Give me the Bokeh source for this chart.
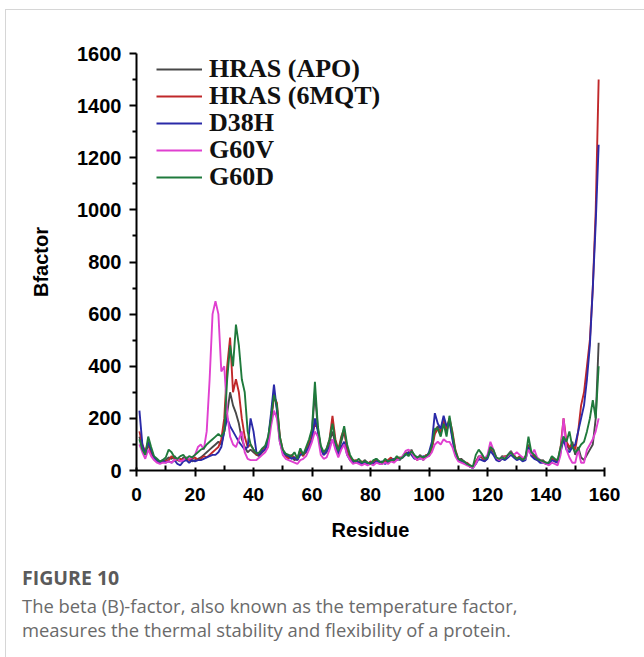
from bokeh.plotting import figure
from bokeh.layouts import column
from bokeh.models import Legend, LegendItem, Div, FixedTicker
from bokeh.embed import file_html
from bokeh.resources import INLINE

residues = list(range(1, 159))

apo = [130, 90, 60, 100, 70, 50, 40, 30, 35, 40,
       50, 45, 55, 40, 35, 50, 40, 45, 35, 40,
       45, 50, 60, 70, 80, 90, 100, 110, 100, 150,
       220, 300, 250, 220, 180, 120, 90, 70, 80, 70,
       60, 55, 70, 80, 110, 200, 300, 240, 120, 70,
       60, 50, 55, 40, 45, 80, 60, 70, 100, 150,
       300, 160, 90, 60, 70, 110, 150, 100, 70, 110,
       150, 90, 50, 40, 30, 35, 25, 40, 30, 25,
       35, 45, 30, 25, 40, 30, 45, 35, 50, 40,
       55, 70, 60, 80, 55, 45, 60, 40, 55, 60,
       90, 150, 170, 140, 190, 150, 190, 130, 70, 40,
       45, 35, 25, 15, 10, 30, 55, 50, 40, 55,
       85, 70, 45, 40, 55, 50, 60, 75, 55, 45,
       50, 40, 55, 100, 65, 55, 45, 35, 40, 25,
       30, 50, 35, 30, 80, 130, 100, 80, 110, 60,
       90, 50, 40, 60, 80, 100, 200, 490]

mqt = [150, 100, 70, 110, 60, 45, 35, 30, 40, 35,
       40, 55, 45, 40, 45, 40, 50, 40, 45, 50,
       40, 45, 55, 50, 60, 70, 80, 90, 120, 200,
       400, 510, 300, 350, 300, 200, 130, 90, 100, 80,
       60, 65, 80, 90, 120, 190, 280, 260, 130, 80,
       55, 45, 60, 50, 40, 70, 55, 80, 110, 130,
       180, 160, 80, 70, 80, 120, 210, 120, 80, 130,
       160, 80, 50, 35, 40, 30, 35, 30, 25, 35,
       30, 40, 35, 30, 35, 40, 50, 35, 45, 50,
       50, 65, 70, 75, 50, 40, 55, 45, 60, 55,
       85, 140, 160, 150, 200, 160, 200, 150, 80, 45,
       40, 30, 30, 20, 15, 35, 50, 55, 35, 50,
       90, 75, 50, 35, 50, 55, 55, 70, 60, 45,
       55, 45, 50, 95, 60, 50, 40, 40, 35, 30,
       25, 45, 40, 35, 90, 200, 110, 90, 100, 80,
       150, 250, 300, 400, 500, 700, 1000, 1500]

d38h = [230, 100, 60, 110, 80, 50, 35, 30, 40, 30,
        35, 30, 40, 25, 20, 35, 40, 30, 40, 35,
        40, 40, 45, 50, 55, 60, 60, 70, 90, 150,
        200, 170, 150, 130, 110, 95, 80, 90, 200, 150,
        70, 60, 75, 80, 120, 220, 330, 230, 110, 70,
        60, 55, 45, 50, 40, 60, 65, 75, 90, 120,
        200, 150, 80, 60, 75, 90, 120, 90, 60, 90,
        110, 60, 40, 30, 35, 30, 25, 30, 25, 30,
        25, 35, 30, 35, 25, 35, 40, 45, 40, 45,
        50, 60, 70, 60, 45, 50, 45, 55, 50, 70,
        110, 220, 180, 160, 210, 170, 190, 120, 60, 40,
        35, 30, 25, 15, 10, 25, 45, 40, 35, 45,
        75, 60, 40, 35, 45, 40, 50, 60, 50, 40,
        45, 35, 40, 90, 55, 45, 40, 30, 30, 25,
        25, 40, 35, 30, 70, 120, 80, 70, 90, 100,
        150, 200, 250, 350, 480, 700, 950, 1250]

g60v = [100, 70, 45, 80, 55, 40, 30, 25, 30, 30,
        35, 30, 40, 45, 35, 40, 50, 45, 50, 60,
        90, 100, 80, 150, 350, 600, 650, 600, 380, 400,
        220, 130, 100, 90, 120, 150, 70, 45, 40, 40,
        40, 50, 60, 70, 90, 170, 230, 200, 110, 60,
        45, 40, 35, 30, 25, 40, 45, 55, 80, 110,
        150, 130, 60, 45, 50, 80, 120, 80, 50, 80,
        100, 60, 40, 25, 30, 25, 20, 25, 20, 25,
        20, 30, 25, 25, 30, 25, 35, 30, 40, 45,
        55, 75, 80, 70, 50, 40, 50, 40, 50, 55,
        70, 100, 110, 100, 120, 110, 110, 90, 55, 35,
        30, 25, 20, 15, 10, 25, 50, 60, 45, 60,
        110, 80, 50, 40, 50, 50, 55, 70, 60, 70,
        60, 50, 45, 80, 60, 80, 50, 40, 30, 25,
        20, 30, 25, 20, 60, 200, 80, 50, 30, 30,
        80, 30, 30, 80, 100, 120, 150, 200]

g60d = [120, 80, 60, 130, 90, 55, 45, 35, 40, 50,
        80, 70, 50, 45, 55, 60, 45, 55, 50, 60,
        70, 80, 85, 100, 110, 120, 130, 140, 130, 150,
        350, 480, 400, 560, 480, 350, 300, 150, 100, 80,
        65, 70, 85, 95, 130, 200, 290, 250, 130, 80,
        65, 60, 55, 70, 45, 85, 60, 90, 120, 160,
        340, 170, 95, 70, 85, 120, 180, 110, 75, 120,
        170, 100, 60, 40, 35, 45, 30, 35, 30, 25,
        40, 45, 35, 30, 45, 35, 40, 40, 55, 45,
        50, 65, 55, 75, 60, 50, 55, 50, 55, 65,
        95, 160, 160, 130, 180, 130, 210, 140, 75, 45,
        40, 35, 25, 20, 15, 60, 80, 65, 45, 50,
        90, 80, 50, 45, 50, 45, 60, 70, 55, 45,
        50, 40, 50, 130, 70, 60, 45, 40, 35, 30,
        30, 55, 45, 40, 90, 130, 110, 150, 90, 70,
        80, 100, 110, 150, 200, 270, 200, 400]

series_names = ["HRAS (APO)", "HRAS (6MQT)", "D38H", "G60V", "G60D"]
series_values = [apo, mqt, d38h, g60v, g60d]
series_colors = ["#484848", "#c0282a", "#2a2aa8", "#e040d0", "#1f7a3c"]

x_ticks = [0, 20, 40, 60, 80, 100, 120, 140, 160]
y_ticks = [0, 200, 400, 600, 800, 1000, 1200, 1400, 1600]

caption_title = "FIGURE 10"
caption_lines = ["The beta (B)-factor, also known as the temperature factor,",
                 "measures the thermal stability and flexibility of a protein."]

# card whose top-left border is at (6, 10); chart on top, caption strip below
OX, OY = 6, 10
W = 644 - OX
SPLIT = 550                      # page y where the caption strip begins
H1 = SPLIT - OY
H2 = 657 - SPLIT
FL = 136 - OX
FR = 644 - 604
FT = 53 - OY
FB = H1 - (470 - OY)

p = figure(width=W, height=H1, x_range=(0, 160), y_range=(0, 1600),
           output_backend="svg", toolbar_location=None,
           min_border_left=FL, min_border_right=FR,
           min_border_top=FT, min_border_bottom=FB)
p.outline_line_color = None
p.grid.grid_line_color = None
p.background_fill_color = "white"
p.border_fill_color = "white"

renderers = []
for name, vals, col in zip(series_names, series_values, series_colors):
    r = p.line(residues, vals, line_color=col, line_width=1.9)
    renderers.append((name, r))

# one legend block per entry so that the row pitch matches the reference
legend_rows_y = [386, 359, 332, 305, 278]
for (name, r), ly in zip(renderers, legend_rows_y):
    lg = Legend(items=[LegendItem(label=name, renderers=[r])], location=(20, ly),
                border_line_color=None, background_fill_alpha=0,
                padding=0, margin=0, spacing=0,
                glyph_width=46, glyph_height=24, label_height=24,
                label_standoff=7,
                label_text_font="Liberation Serif", label_text_font_style="bold",
                label_text_font_size="26px", label_text_color="#111111")
    p.add_layout(lg, "center")

for ax in (p.xaxis[0], p.yaxis[0]):
    ax.axis_line_width = 2
    ax.axis_line_color = "black"
    ax.major_tick_line_width = 2
    ax.minor_tick_line_width = 2
    ax.major_label_text_font = "Liberation Sans"
    ax.major_label_text_font_style = "bold"
    ax.major_label_text_font_size = "19px"
    ax.major_label_text_color = "black"
    ax.axis_label_text_font = "Liberation Sans"
    ax.axis_label_text_font_style = "bold"
    ax.axis_label_text_font_size = "20px"
    ax.axis_label_text_color = "black"

p.yaxis.major_label_text_font_size = "20px"
p.xaxis.ticker = FixedTicker(ticks=x_ticks, minor_ticks=list(range(10, 160, 20)))
p.yaxis.ticker = FixedTicker(ticks=y_ticks, minor_ticks=list(range(100, 1600, 200)))
p.xaxis.major_tick_out = 6
p.xaxis.major_tick_in = 3
p.xaxis.minor_tick_out = 0
p.xaxis.minor_tick_in = 5
p.yaxis.major_tick_out = 7
p.yaxis.major_tick_in = 0
p.yaxis.minor_tick_out = 4
p.yaxis.minor_tick_in = 0
p.xaxis.major_label_standoff = 11
p.yaxis.major_label_standoff = 8
p.xaxis.axis_label = "Residue"
p.yaxis.axis_label = "Bfactor"
p.xaxis.axis_label_standoff = 15
p.yaxis.axis_label_standoff = 22

# caption strip (HTML text) below the chart
line_h = 24
cap_tops = [578 - SPLIT - line_h // 2, 606 - SPLIT - line_h // 2, 630 - SPLIT - line_h // 2]
base = (f"position:absolute;left:{22 - OX}px;white-space:nowrap;"
        f"font-family:'Open Sans';line-height:{line_h}px;margin:0;")
html = (f'<div style="position:relative;width:{W}px;height:{H2}px;">'
        f'<div style="{base}top:{cap_tops[0]}px;font-size:19.5px;font-weight:bold;'
        f'color:#5a5a5a;">{caption_title}</div>'
        f'<div style="{base}top:{cap_tops[1]}px;font-size:18.4px;color:#6a6a6a;">'
        f'{caption_lines[0]}</div>'
        f'<div style="{base}top:{cap_tops[2]}px;font-size:18.4px;color:#6a6a6a;">'
        f'{caption_lines[1]}</div></div>')
cap = Div(text=html, width=W, height=H2, styles={"margin": "0", "padding": "0"})

lay = column(p, cap, spacing=0)
lay.styles = {"margin-left": f"{OX - 1}px", "margin-top": f"{OY - 1}px",
              "border-left": "1px solid #d6d6d6", "border-top": "1px solid #d6d6d6"}

open("out.html", "w").write(file_html(lay, INLINE))
